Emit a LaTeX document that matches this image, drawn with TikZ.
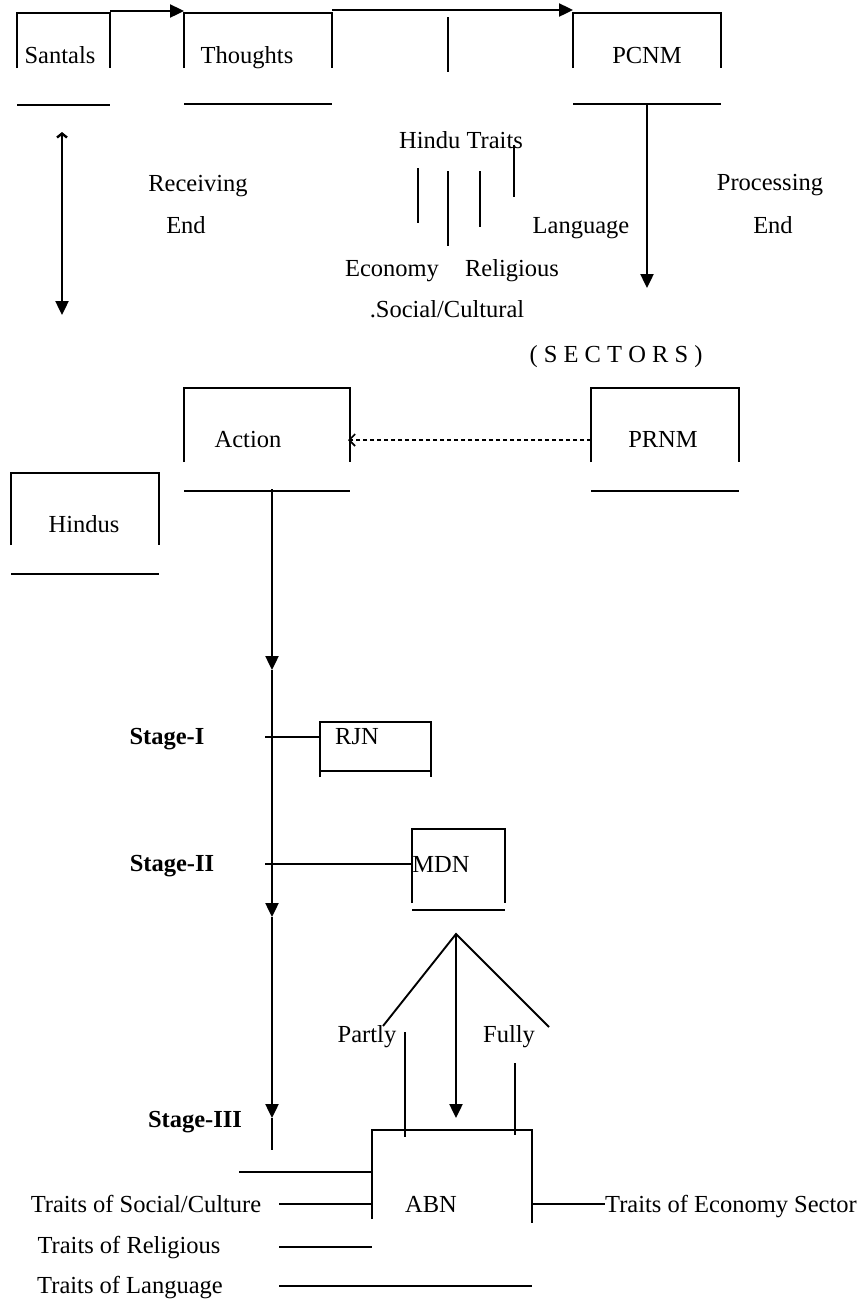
\documentclass[tikz,border=0pt]{standalone}
\usepackage{fontspec}
\setmainfont{Liberation Serif}
\usetikzlibrary{arrows.meta}
\newcommand\openbox[6]{%
  \coordinate (#1-tl) at (#2,#4);
  \coordinate (#1-tr) at (#3,#4);
  \coordinate (#1-bl) at (#2,#6);
  \coordinate (#1-br) at (#3,#6);
  \coordinate (#1-b) at ({(#2+#3)/2},#6);
  \draw[ln] (#2,#5) -- (#1-tl) -- (#1-tr) -- (#3,#5);
  \draw[ln] (#1-bl) -- (#1-br);
}
\begin{document}
\begin{tikzpicture}[x=1pt,y=-1pt,
  lbl/.style={font=\fontsize{24.5}{28}\selectfont, inner sep=0pt, anchor=base},
  stg/.style={lbl, font=\fontsize{24.5}{28}\selectfont\bfseries},
  ln/.style={line width=2.4pt},
  thn/.style={line width=1.9pt},
  arr/.style={ln, -{Triangle[length=14pt,width=13pt]}},
  dsh/.style={line width=1.6pt, dash pattern=on 4.5pt off 2.5pt, -{Straight Barb[length=6pt,width=12pt]}}]
\useasboundingbox (0,0) rectangle (861,1302);

% boxes
\openbox{san}{17}{110}{13}{68}{105}
\openbox{tho}{184}{332}{13}{68}{104}
\openbox{pcnm}{573}{721}{13}{68}{104}
\openbox{act}{184}{350}{388}{462}{491}
\openbox{prnm}{591}{739}{388}{462}{491}
\openbox{hin}{11}{159}{473}{545}{574}
\openbox{mdn}{412}{505}{829}{903}{910}

% RJN box
\coordinate (rjn-l) at (320,737);
\draw[ln] (320,777) -- (320,722) -- (431,722) -- (431,777);
\draw[ln] (320,771) -- (431,771);

% ABN box
\coordinate (abn-l) at (372,1204);
\coordinate (abn-r) at (532,1204);
\draw[ln] (372,1219) -- (372,1130) -- (532,1130) -- (532,1223);

% texts
\node[lbl] (santals) at (60,63) {Santals};
\node[lbl] (thoughts) at (247,63) {Thoughts};
\node[lbl] (pcnm) at (647,63) {PCNM};
\node[lbl] (recv) at (198,191) {Receiving};
\node[lbl] (recvend) at (186,233) {End};
\node[lbl] (proc) at (770,190) {Processing};
\node[lbl] (procend) at (773,233) {End};
\node[lbl] (hindutraits) at (461,148) {Hindu Traits};
\node[lbl] (language) at (581,233) {Language};
\node[lbl] (economy) at (392,276) {Economy};
\node[lbl] (religious) at (512,276) {Religious};
\node[lbl] (social) at (447,317) {.Social/Cultural};
\node[lbl] (sectors) at (616,362) {( S E C T O R S )};
\node[lbl] (action) at (248,447) {Action};
\node[lbl] (prnm) at (663,447) {PRNM};
\node[lbl] (hindus) at (84,532) {Hindus};
\node[stg] (s1) at (167,744) {Stage-I};
\node[lbl] (rjn) at (357,744) {RJN};
\node[stg] (s2) at (172,871) {Stage-II};
\node[lbl] (mdn) at (441,872) {MDN};
\node[lbl] (partly) at (367,1042) {Partly};
\node[lbl] (fully) at (509,1042) {Fully};
\node[stg] (s3) at (195,1127) {Stage-III};
\node[lbl] (abn) at (431,1212) {ABN};
\node[lbl] (tsoc) at (146,1212) {Traits of Social/Culture};
\node[lbl] (trel) at (129,1253) {Traits of Religious};
\node[lbl] (tlang) at (130,1293) {Traits of Language};
\node[lbl] (teco) at (731,1212) {Traits of Economy Sector};

% top arrows
\draw[arr] ([yshift=2pt]san-tr) -- ([yshift=2pt]tho-tl);
\draw[arr] ([yshift=3pt]tho-tr) -- ([yshift=3pt]pcnm-tl);
\draw[ln] (448,17) -- (448,72);
\coordinate (pcnmtip) at (647,288);
\draw[arr] (pcnm-b) -- (pcnmtip);

% receiving double arrow
\coordinate (rtop) at (62,132);
\coordinate (rbot) at (62,315);
\draw[ln, {Straight Barb[length=4pt,width=10pt]}-{Triangle[length=14pt,width=13pt]}] (rtop) -- (rbot);

% hindu traits lines
\draw[thn] (418,168) -- (418,223);
\draw[thn] (448,171) -- (448,246);
\draw[thn] (480,171) -- (480,227);
\draw[thn] (514,145) -- (514,197);

% dashed arrow PRNM -> Action
\draw[dsh] (591,440) -- (348,440);

% main vertical
\coordinate (m0) at (272,489);
\coordinate (m1) at (272,670);
\coordinate (m2) at (272,917);
\coordinate (m3) at (272,1118);
\coordinate (m4) at (272,1150);
\draw[arr] (m0) -- (m1);
\draw[arr] (m1) -- (m2);
\draw[arr] (m2) -- (m3);
\draw[ln] (m3) -- (m4);

% stage connectors
\draw[ln] (265,737) -- (rjn-l);
\draw[ln] (265,864) -- (412,864);

% fan from MDN
\coordinate (apex) at (456,934);
\coordinate (fl) at (383,1026);
\coordinate (fr) at (549,1027);
\draw[thn] (fl) -- (apex) -- (fr);
\draw[arr] (apex) -- (456,1118);
\draw[thn] (405,1032) -- (405,1137);
\draw[thn] (515,1063) -- (515,1135);

% ABN side lines
\draw[ln] (239,1172) -- (372,1172);
\draw[ln] (279,1204) -- (abn-l);
\draw[ln] (279,1247) -- (372,1247);
\draw[ln] (279,1286) -- (532,1286);
\draw[ln] (abn-r) -- (605,1204);
\end{tikzpicture}
\end{document}
